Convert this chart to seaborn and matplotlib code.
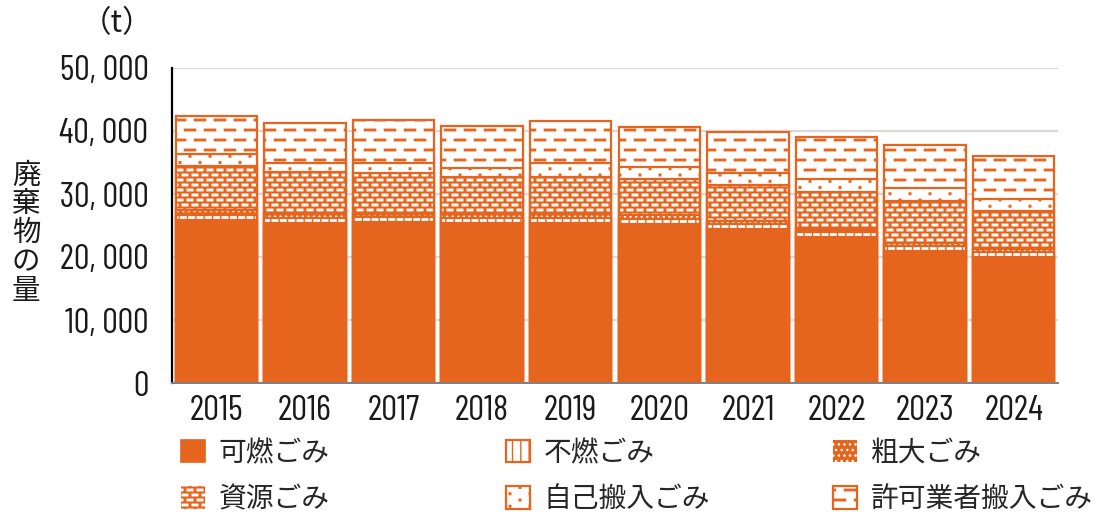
import numpy as np
import pandas as pd
import matplotlib
matplotlib.use("Agg")
import matplotlib.pyplot as plt
import matplotlib.hatch as mhatch
from matplotlib.path import Path
from matplotlib.patches import Patch
from matplotlib import font_manager
import seaborn as sns

# ---------------- data ----------------
years = ["2015", "2016", "2017", "2018", "2019", "2020", "2021", "2022", "2023", "2024"]
combustible = [25870, 25350, 25500, 25350, 25350, 25240, 24440, 23220, 21000, 20050]
noncombustible = [800, 900, 800, 800, 800, 800, 800, 800, 800, 700]
bulky = [800, 700, 700, 600, 600, 600, 500, 500, 500, 500]
resource = [6980, 6500, 6280, 6000, 5990, 5750, 5640, 5840, 6640, 6100]
self_brought = [1860, 1430, 1590, 1330, 2130, 1950, 2000, 1970, 1970, 1860]
permit_brought = [6130, 6350, 6880, 6760, 6760, 6250, 6510, 6670, 6870, 6870]
series_labels = ["可燃ごみ", "不燃ごみ", "粗大ごみ", "資源ごみ", "自己搬入ごみ", "許可業者搬入ごみ"]
yticks = [0, 10000, 20000, 30000, 40000, 50000]
ylabel = "廃棄物の量"
unit_label = "（t）"

ORANGE = "#E5651F"
GRID = "#D9D9D9"


# ---------------- custom hatch patterns (style only) ----------------
def _lattice(ncols, nrows):
    pts = []
    for r in range(nrows + 1):
        y = r / nrows
        if r % 2 == 0:
            xs = [c / ncols for c in range(ncols + 1)]
        else:
            xs = [(c + 0.5) / ncols for c in range(ncols)]
        pts.extend((x, y) for x in xs)
    return np.array(pts)


class DashHatch(mhatch.HatchPatternBase):
    char = "-"
    rel_half_len = 0.28
    abs_half_len = None
    half_thick = 0.0075
    row_factor = 2

    def __init__(self, hatch, density):
        n = hatch.count(self.char)
        self.ncols = 5 * n
        self.nrows = int(self.row_factor * self.ncols)
        if n:
            self.centers = _lattice(self.ncols, self.nrows)
            self.num_vertices = 5 * len(self.centers)
        else:
            self.num_vertices = 0

    def set_vertices_and_codes(self, vertices, codes):
        hl = self.abs_half_len if self.abs_half_len else self.rel_half_len / self.ncols
        ht = self.half_thick
        box = np.array([[-hl, -ht], [hl, -ht], [hl, ht], [-hl, ht], [-hl, -ht]])
        v = np.concatenate([box + c for c in self.centers])
        c1 = [Path.MOVETO, Path.LINETO, Path.LINETO, Path.LINETO, Path.CLOSEPOLY]
        vertices[:] = v
        codes[:] = np.tile(c1, len(self.centers))


class DotHatch(DashHatch):
    char = "o"
    abs_half_len = 0.008
    half_thick = 0.008
    row_factor = 3.2


mhatch._hatch_types = [
    DashHatch if t is mhatch.HorizontalHatch else (DotHatch if t is mhatch.SmallCircles else t)
    for t in mhatch._hatch_types
]

# ---------------- fonts ----------------
sns.set_style("white")
avail = {f.name for f in font_manager.fontManager.ttflist}
JP = ["Noto Sans CJK JP", "DejaVu Sans"]
NUM = [f for f in ["Barlow Condensed", "Archivo Narrow", "Liberation Sans Narrow"] if f in avail][:1] + ["Noto Sans CJK JP"]
plt.rcParams["font.family"] = JP
plt.rcParams["hatch.linewidth"] = 1.0

# ---------------- figure ----------------
W, H = 1096, 516
fig = plt.figure(figsize=(W / 100, H / 100), dpi=100)
ax = fig.add_axes([172 / W, 133 / H, 886 / W, 315 / H])

styles = [
    dict(facecolor=ORANGE, edgecolor=ORANGE, hatch=None),
    dict(facecolor="white", edgecolor=ORANGE, hatch="||"),
    dict(facecolor=ORANGE, edgecolor="white", hatch="..."),
    dict(facecolor=ORANGE, edgecolor="white", hatch="--"),
    dict(facecolor="white", edgecolor=ORANGE, hatch="o"),
    dict(facecolor="white", edgecolor=ORANGE, hatch="-"),
]
values = np.array([combustible, noncombustible, bulky, resource, self_brought, permit_brought])
cum = np.cumsum(values, axis=0)

for i in reversed(range(len(values))):
    df = pd.DataFrame({"year": years, "value": cum[i]})
    sns.barplot(data=df, x="year", y="value", order=years, width=0.92, errorbar=None,
                ax=ax, linewidth=0, saturation=1, **styles[i])
    sns.barplot(data=df, x="year", y="value", order=years, width=0.92, errorbar=None,
                ax=ax, facecolor="none", edgecolor=ORANGE, linewidth=1.6, saturation=1)

ax.set_xlim(-0.5, len(years) - 0.5)
ax.set_ylim(0, 50000)
ax.set_yticks(yticks)
ax.set_yticklabels([f"{v:,}".replace(",", ", ") for v in yticks], family=NUM, fontsize=25)
ax.set_xticks(range(len(years)))
ax.set_xticklabels(years, family=NUM, fontsize=25.5)
ax.tick_params(axis="y", length=0, pad=17, colors="#1a1a1a")
ax.tick_params(axis="x", length=0, pad=9, colors="#1a1a1a")
ax.set_xlabel("")
ax.set_ylabel("")
ax.yaxis.grid(True, color=GRID, linewidth=1.6)
ax.xaxis.grid(False)
ax.set_axisbelow(True)
for s in ["top", "right"]:
    ax.spines[s].set_visible(False)
ax.spines["left"].set_color("#000000")
ax.spines["left"].set_linewidth(1.6)
ax.spines["bottom"].set_color("#7f7f7f")
ax.spines["bottom"].set_linewidth(1.4)

# y label (vertical stacked characters) and unit
fig.text(26 / W, 1 - 233 / H, "\n".join(ylabel), ha="center", va="center",
         fontsize=20.5, linespacing=0.95, family=JP, color="#1a1a1a")
fig.text(117 / W, 1 - 24 / H, unit_label, ha="center", va="center",
         fontsize=22, family=JP, color="#1a1a1a")

# legend: three columns placed at fixed positions
handle_kw = [
    dict(facecolor=ORANGE, edgecolor=ORANGE, linewidth=1.2),
    dict(facecolor="white", edgecolor=ORANGE, hatch="||", linewidth=1.6),
    dict(facecolor=ORANGE, edgecolor="white", hatch="...", linewidth=0),
    dict(facecolor=ORANGE, edgecolor="white", hatch="--", linewidth=0),
    dict(facecolor="white", edgecolor=ORANGE, hatch="o", linewidth=1.6),
    dict(facecolor="white", edgecolor=ORANGE, hatch="-", linewidth=1.6),
]
handles = [Patch(**kw) for kw in handle_kw]
col_x = [181, 506, 833]
columns = [(0, 3), (1, 4), (2, 5)]
for cx, (a, b) in zip(col_x, columns):
    fig.legend(handles=[handles[a], handles[b]], labels=[series_labels[a], series_labels[b]],
               loc="upper left", bbox_to_anchor=(cx / W, 1 - 438 / H), frameon=False,
               prop={"family": JP, "size": 20}, handlelength=0.85, handleheight=0.85,
               handletextpad=0.5, labelspacing=0.58, borderpad=0, borderaxespad=0)

fig.savefig("out.png", dpi=100)
